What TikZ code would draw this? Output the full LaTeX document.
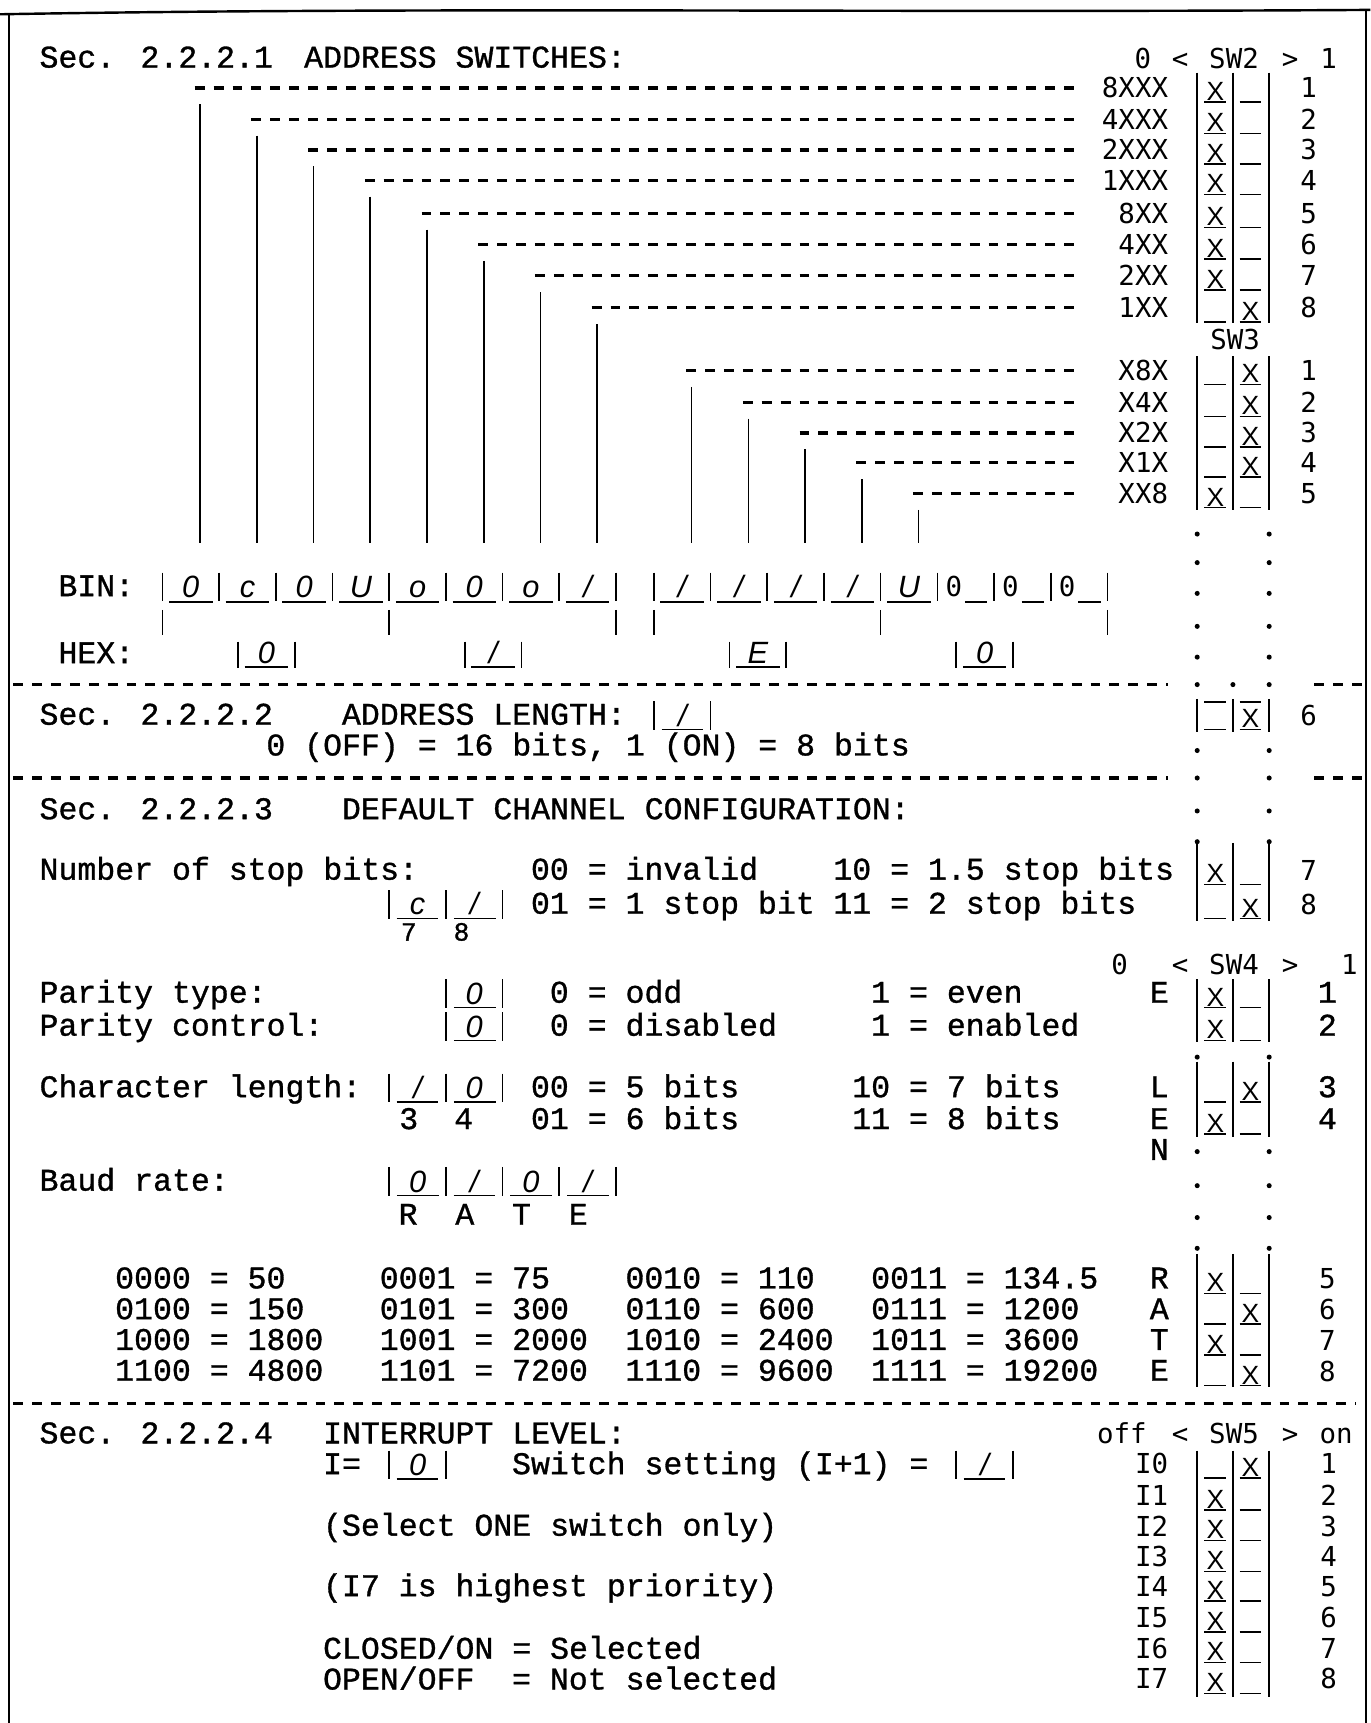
\documentclass[tikz,border=0pt]{standalone}
\usepackage{fontspec}
\newfontfamily\twfam[FakeBold=1]{Liberation Mono}
\newfontfamily\lgfam{DejaVu Sans Mono}
\newfontfamily\hwfam{Liberation Sans}
\newcommand\twf{\twfam\fontsize{28.7}{30}\selectfont}
\newcommand\twsf{\twfam\fontsize{24}{26}\selectfont}
\newcommand\lgf{\lgfam\fontsize{25}{27}\selectfont}
\newcommand\hwf{\hwfam\itshape\fontsize{28}{30}\selectfont}
\newcommand\hxf{\hwfam\fontsize{24}{26}\selectfont}
\newcounter{tn}
\newcommand\T[3][tw]{\stepcounter{tn}\node[#1] (n\arabic{tn}) at (#2) {#3};}
\newcommand\sw[2]{%
  \draw[uline] (1096,#1+13) -- (1116,#1+13) (1128,#1+13) -- (1148,#1+13);
  \ifnum#2=1 \T[hx]{1106,#1+11.5}{X}\else\T[hx]{1138,#1+11.5}{X}\fi}
\newcommand\bars[2]{\draw[bar] (1089.5,#1) -- (1089.5,#2) (1122,#1) -- (1122,#2) (1155,#1) -- (1155,#2);}
\newcommand\swdots[1]{\fill (1089.5,#1) circle (2.3) (1155,#1) circle (2.3);}
\tikzset{
  tw/.style={font=\twf, inner sep=0pt, outer sep=0pt, anchor=base west, yshift=-8.5pt},
  twc/.style={tw, anchor=base},
  tws/.style={font=\twsf, inner sep=0pt, outer sep=0pt, anchor=base, yshift=-7pt},
  lg/.style={font=\lgf, inner sep=0pt, outer sep=0pt, anchor=base, yshift=-9pt},
  lgr/.style={lg, anchor=base east},
  hw/.style={font=\hwf, inner sep=0pt, outer sep=0pt, anchor=base},
  hx/.style={font=\hxf, inner sep=0pt, outer sep=0pt, anchor=base},
  dsh/.style={line width=3pt, dash pattern=on 9pt off 8.2pt},
  bar/.style={line width=1.5pt},
  uline/.style={line width=1.5pt},
  frame/.style={line width=1.6pt},
}
\begin{document}
\begin{tikzpicture}[x=1pt,y=-1pt]
\fill[white] (0,0) rectangle (1247,1568);
\useasboundingbox (0,0) rectangle (1247,1568);
% frame
\draw[line width=2.2pt] (0,13) .. controls (400,6) and (800,12) .. (1247,9);
\draw[frame] (8,12) -- (8,1568);
\draw[frame] (1243,10) -- (1243,1568);

% ---------------- Section 2.2.2.1
\T{36,53}{Sec. 2.2.2.1}
\T{276.8,53}{ADDRESS SWITCHES:}
\T[lg]{1040,53}{0}\T[lg]{1074,53}{<}\T[lg]{1123,53}{SW2}\T[lg]{1174,53}{>}\T[lg]{1209,53}{1}
\foreach \y/\c/\lab/\num/\sel in {80/177.2/8XXX/1/1, 108.5/228.8/4XXX/2/1, 136.5/280.4/2XXX/3/1,
  164/332.0/1XXX/4/1, 194/383.6/8XX/5/1, 222.5/435.2/4XX/6/1, 251/486.8/2XX/7/1, 280/538.4/1XX/8/2}{
  \draw[dsh] (\c,\y) -- (978.4,\y);
  \draw[bar] (\c+5,\y+15) -- (\c+5,494);
  \T[lgr]{1063,\y}{\lab}
  \T[lg]{1191,\y}{\num}
  \sw{\y}{\sel}
}
\bars{66}{294}
\T[lg]{1124,309}{SW3}
\foreach \y/\c/\lab/\num/\sel in {337/624.4/X8X/1/2, 366/676/X4X/2/2, 394/727.6/X2X/3/2,
  421/779.2/X1X/4/2, 449/830.8/XX8/5/1}{
  \draw[dsh] (\c,\y) -- (978.4,\y);
  \draw[bar] (\c+5,\y+15) -- (\c+5,494);
  \T[lgr]{1063,\y}{\lab}
  \T[lg]{1191,\y}{\num}
  \sw{\y}{\sel}
}
\bars{324}{464}
\foreach \y in {486,512,540,570,598,683,708,738,766,962,1048,1079,1108,1136}{\swdots{\y}}
\fill (1122,623) circle (2.3);
\swdots{623}

% BIN row
\T{53.2,534}{BIN:}
\foreach \a in {147.8,199.4,251.0,302.6,354.2,405.8,457.4,509.0,560.6,595.0,646.6,698.2,749.8,801.4,853.0,904.6,956.2,1007.8}
  {\draw[bar] (\a,521) -- (\a,547);}
\foreach \a in {147.8,199.4,251.0,302.6,354.2,405.8,457.4,509.0,595.0,646.6,698.2,749.8,801.4}
  {\draw[uline] (\a+6,548) -- (\a+45.6,548);}
\foreach \a in {853.0,904.6,956.2}
  {\draw[uline] (\a+25,548) -- (\a+45.6,548); \T[lg]{\a+15,534}{0}}
\T[hw]{173.6,544}{0}\T[hw]{225.2,544}{c}\T[hw]{276.8,544}{0}\T[hw]{328.4,544}{U}
\T[hw]{380,544}{o}\T[hw]{431.6,544}{0}\T[hw]{483.2,544}{o}\T[hw]{534.8,544}{/}
\T[hw]{620.8,544}{/}\T[hw]{672.4,544}{/}\T[hw]{724,544}{/}\T[hw]{775.6,544}{/}\T[hw]{827.2,544}{U}
\foreach \a in {147.8,354.2,560.6,595.0,801.4,1007.8}{\draw[bar] (\a,555) -- (\a,578);}
% HEX row
\T{53.2,595}{HEX:}
\foreach \a/\b in {216.6/268.2, 423/474.6, 663.8/715.4, 870.2/921.8}
  {\draw[bar] (\a,584) -- (\a,608) (\b,584) -- (\b,608); \draw[uline] (\a+6,607) -- (\b-6,607);}
\T[hw]{242.4,604}{0}\T[hw]{448.8,604}{/}\T[hw]{689.6,604}{E}\T[hw]{896,604}{0}

% separator
\draw[dsh] (12,623) -- (1063,623);
\draw[dsh] (1196,623) -- (1241,623);

% ---------------- Section 2.2.2.2
\T{36,651}{Sec. 2.2.2.2}
\T{311.2,651}{ADDRESS LENGTH:}
\draw[bar] (595,638) -- (595,664) (646.6,638) -- (646.6,664);
\draw[uline] (602,664) -- (640,664);
\T[hw]{621,661}{/}
\T{242.4,679}{0 (OFF) = 16 bits, 1 (ON) = 8 bits}
\bars{636}{666}
\draw[uline] (1096,639) -- (1116,639) (1128,639) -- (1148,639);
\sw{651}{2}
\T[lg]{1191,651}{6}

\draw[dsh] (12,708) -- (1063,708);
\draw[dsh] (1196,708) -- (1241,708);

% ---------------- Section 2.2.2.3
\T{36,737}{Sec. 2.2.2.3}
\T{311.2,737}{DEFAULT CHANNEL CONFIGURATION:}
\T{36,792}{Number of stop bits:}
\T{483.2,792}{00 = invalid}
\T{758.4,792}{10 = 1.5 stop bits}
\draw[bar] (354.2,810) -- (354.2,836) (405.8,810) -- (405.8,836) (457.4,810) -- (457.4,836);
\draw[uline] (361,836) -- (399,836) (413,836) -- (451,836);
\T[hw]{380,832}{c}\T[hw]{431.6,832}{/}
\T[tws]{372,849}{7}\T[tws]{420,849}{8}
\T{483.2,823}{01 = 1 stop bit}
\T{758.4,823}{11 = 2 stop bits}
\bars{767}{838}
\sw{792}{1}\sw{823}{2}
\T[lg]{1191,792}{7}\T[lg]{1191,823}{8}

\T[lg]{1019,878}{0}\T[lg]{1074,878}{<}\T[lg]{1123,878}{SW4}\T[lg]{1174,878}{>}\T[lg]{1228,878}{1}

\T{36,904}{Parity type:}
\draw[bar] (405.8,891) -- (405.8,917) (457.4,891) -- (457.4,917);
\draw[uline] (413,917) -- (451,917);
\T[hw]{431.6,914}{0}
\T{500.4,904}{0 = odd}
\T{792.8,904}{1 = even}
\T[twc]{1055,904}{E}
\T{36,934}{Parity control:}
\draw[bar] (405.8,921) -- (405.8,947) (457.4,921) -- (457.4,947);
\draw[uline] (413,947) -- (451,947);
\T[hw]{431.6,944}{0}
\T{500.4,934}{0 = disabled}
\T{792.8,934}{1 = enabled}
\bars{891}{948}
\sw{904}{1}\sw{934}{1}
\T[twc]{1208,904}{1}\T[twc]{1208,934}{2}

\T{36,990}{Character length:}
\draw[bar] (354.2,977) -- (354.2,1003) (405.8,977) -- (405.8,1003) (457.4,977) -- (457.4,1003);
\draw[uline] (361,1003) -- (399,1003) (413,1003) -- (451,1003);
\T[hw]{380,1000}{/}\T[hw]{431.6,1000}{0}
\T[twc]{372,1019}{3}\T[twc]{422,1019}{4}
\T{483.2,990}{00 = 5 bits}
\T{775.6,990}{10 = 7 bits}
\T{483.2,1019}{01 = 6 bits}
\T{775.6,1019}{11 = 8 bits}
\T[twc]{1055,990}{L}\T[twc]{1055,1019}{E}\T[twc]{1055,1047}{N}
\bars{966}{1035}
\sw{990}{2}\sw{1019}{1}
\T[twc]{1208,990}{3}\T[twc]{1208,1019}{4}

\T{36,1075}{Baud rate:}
\foreach \a in {354.2,405.8,457.4,509.0,560.6}{\draw[bar] (\a,1062) -- (\a,1088);}
\foreach \a in {354.2,405.8,457.4,509.0}{\draw[uline] (\a+7,1088) -- (\a+45,1088);}
\T[hw]{380,1085}{0}\T[hw]{431.6,1085}{/}\T[hw]{483.2,1085}{0}\T[hw]{534.8,1085}{/}
\T[twc]{371.4,1106}{R}\T[twc]{423,1106}{A}\T[twc]{474.6,1106}{T}\T[twc]{526.2,1106}{E}

\T{104.8,1164}{0000 = 50}\T{345.6,1164}{0001 = 75}\T{569.2,1164}{0010 = 110}\T{792.8,1164}{0011 = 134.5}
\T{104.8,1192}{0100 = 150}\T{345.6,1192}{0101 = 300}\T{569.2,1192}{0110 = 600}\T{792.8,1192}{0111 = 1200}
\T{104.8,1220}{1000 = 1800}\T{345.6,1220}{1001 = 2000}\T{569.2,1220}{1010 = 2400}\T{792.8,1220}{1011 = 3600}
\T{104.8,1248}{1100 = 4800}\T{345.6,1248}{1101 = 7200}\T{569.2,1248}{1110 = 9600}\T{792.8,1248}{1111 = 19200}
\T[twc]{1055,1164}{R}\T[twc]{1055,1192}{A}\T[twc]{1055,1220}{T}\T[twc]{1055,1248}{E}
\bars{1141}{1262}
\sw{1164}{1}\sw{1192}{2}\sw{1220}{1}\sw{1248}{2}
\T[lg]{1208,1164}{5}\T[lg]{1208,1192}{6}\T[lg]{1208,1220}{7}\T[lg]{1208,1248}{8}

\draw[dsh] (12,1277) -- (1234,1277);

% ---------------- Section 2.2.2.4
\T{36,1305}{Sec. 2.2.2.4}
\T{294,1305}{INTERRUPT LEVEL:}
\T[lg]{1021,1305}{off}\T[lg]{1074,1305}{<}\T[lg]{1123,1305}{SW5}\T[lg]{1174,1305}{>}\T[lg]{1216,1305}{on}
\T{294,1333}{I=}
\draw[bar] (354.2,1320) -- (354.2,1346) (405.8,1320) -- (405.8,1346);
\draw[uline] (361,1346) -- (399,1346);
\T[hw]{380,1343}{0}
\T{466,1333}{Switch setting (I+1) =}
\draw[bar] (870.2,1320) -- (870.2,1346) (921.8,1320) -- (921.8,1346);
\draw[uline] (877,1346) -- (915,1346);
\T[hw]{896,1343}{/}
\T{294,1389}{(Select ONE switch only)}
\T{294,1444}{(I7 is highest priority)}
\T{294,1501}{CLOSED/ON = Selected}
\T{294,1529}{OPEN/OFF}
\T{466,1529}{= Not selected}
\foreach \y/\lab/\num/\sel in {1332/I0/1/2, 1361/I1/2/1, 1389/I2/3/1, 1417/I3/4/1,
  1444/I4/5/1, 1472/I5/6/1, 1500/I6/7/1, 1528/I7/8/1}{
  \T[lgr]{1063,\y}{\lab}
  \T[lg]{1209,\y}{\num}
  \sw{\y}{\sel}
}
\bars{1320}{1544}
\end{tikzpicture}
\end{document}
